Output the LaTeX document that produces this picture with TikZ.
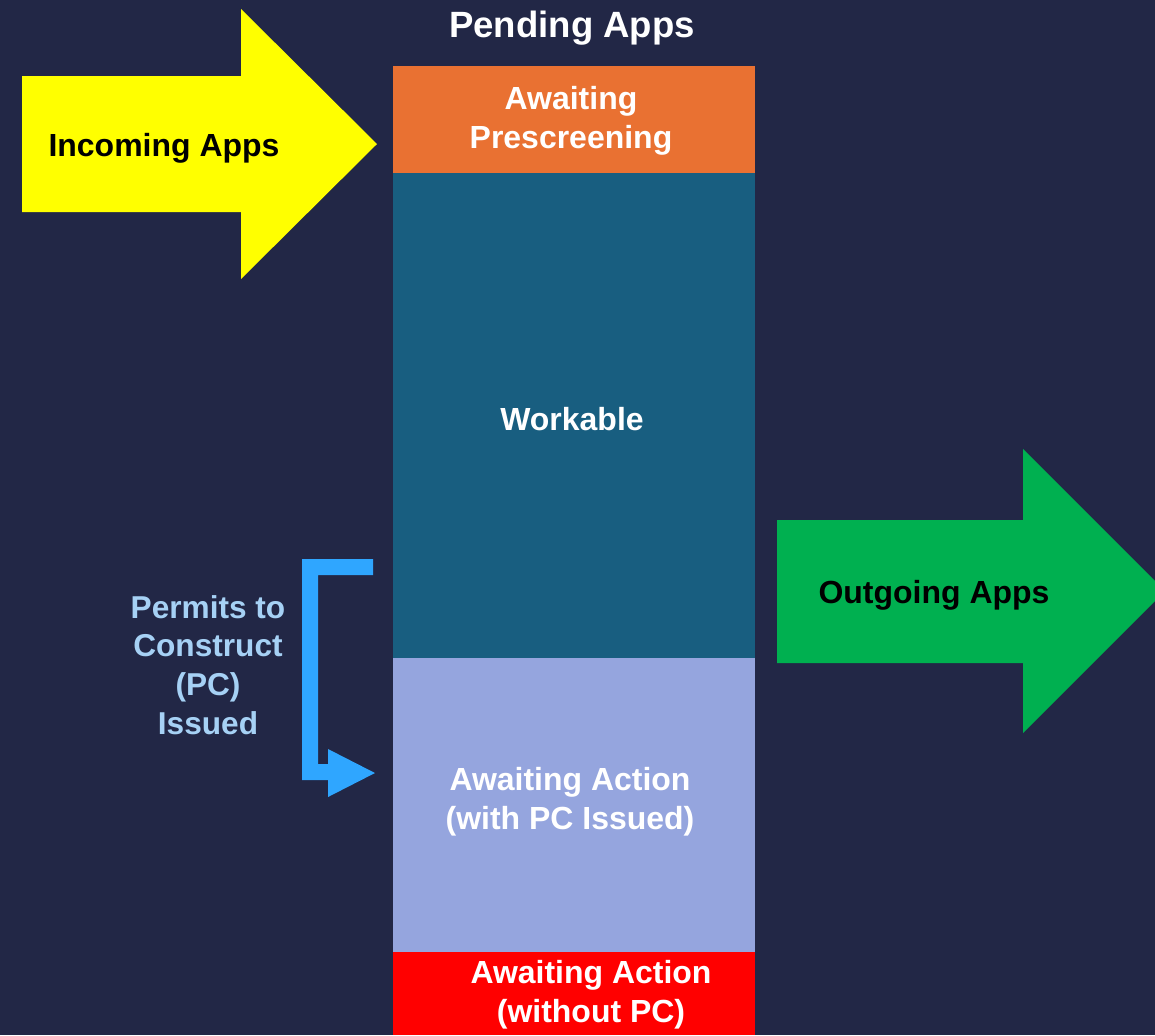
\documentclass[tikz,border=0pt]{standalone}
\usepackage{fontspec}
\setmainfont{Liberation Sans}
\usetikzlibrary{calc}

\definecolor{bgnavy}{RGB}{34,39,70}
\definecolor{prescreen}{RGB}{233,113,50}
\definecolor{workable}{RGB}{24,94,128}
\definecolor{withpc}{RGB}{149,165,222}
\definecolor{nopc}{RGB}{255,0,0}
\definecolor{incoming}{RGB}{255,255,0}
\definecolor{outgoing}{RGB}{0,176,80}
\definecolor{pcarrow}{RGB}{47,166,255}
\definecolor{pctext}{RGB}{166,209,245}

\begin{document}
\begin{tikzpicture}[x=0.02cm, y=-0.02cm,
    lbl/.style={text=white, align=center, font=\fontsize{18.2}{22}\selectfont\bfseries},
    arrowlbl/.style={text=black, font=\fontsize{18.2}{22}\selectfont\bfseries}]
        \fill[bgnavy] (0,0) rectangle (1155,1035);
        \useasboundingbox (0,0) rectangle (1155,1035);
        \clip (0,0) rectangle (1155,1035);
        % stacked column
        \fill[prescreen] (393,66) rectangle (755,173);
        \fill[workable] (393,173) rectangle (755,658);
        \fill[withpc] (393,658) rectangle (755,952);
        \fill[nopc] (393,952) rectangle (755,1035);
        \node[text=white, font=\fontsize{20.8}{24}\selectfont\bfseries] (title) at (572,28) {Pending Apps};
        \node[lbl] (prescreening) at (571,121) {Awaiting\\Prescreening};
        \node[lbl] (workablelbl) at (572,419) {Workable};
        \node[lbl] (withpclbl) at (570,802) {Awaiting Action\\(with PC Issued)};
        \node[lbl] (nopclbl) at (591,995) {Awaiting Action\\(without PC)};
        % big arrows
        \fill[incoming] (22,76) -- (241,76) -- (241,9) -- (377,144) -- (241,279) -- (241,212) -- (22,212) -- cycle;
        \node[arrowlbl] (incominglbl) at (164,148) {Incoming Apps};
        \fill[outgoing] (777,520) -- (1023,520) -- (1023,449) -- (1165,591) -- (1023,733) -- (1023,663) -- (777,663) -- cycle;
        \node[arrowlbl] (outgoinglbl) at (934,595) {Outgoing Apps};
        % bent arrow for PC issued
        \fill[pcarrow] (302,559) -- (373,559) -- (373,575) -- (318,575) -- (318,764) -- (328,764) -- (328,749) -- (375,773) -- (328,797) -- (328,780) -- (302,780) -- cycle;
        \node[text=pctext, align=center, font=\fontsize{18}{22}\selectfont\bfseries] (pclbl) at (208,665) {Permits to\\Construct\\(PC)\\Issued};
    \end{tikzpicture}
\end{document}
